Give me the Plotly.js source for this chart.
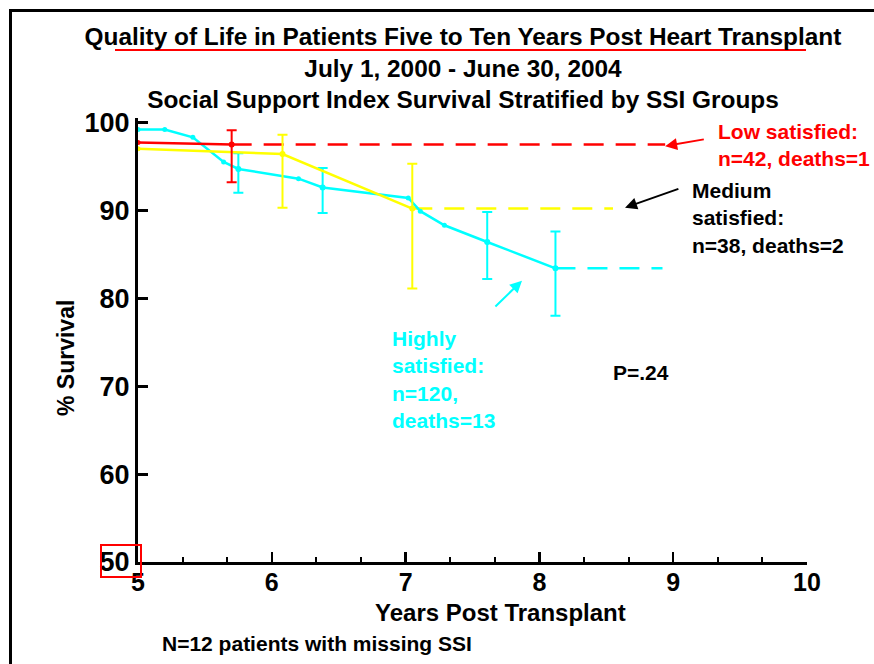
<!DOCTYPE html>
<html>
<head>
<meta charset="utf-8">
<script src="https://cdn.plot.ly/plotly-3.0.1.min.js"></script>
<style>
  html, body { margin: 0; padding: 0; background: #fff; }
  #wrap { position: relative; width: 874px; height: 664px; overflow: hidden; }
  #chart { position: absolute; left: 0; top: 0; width: 874px; height: 664px; }
  #frame { position: absolute; left: 9px; top: 9px; width: 900px; height: 700px;
           border-left: 3px solid #000; border-top: 3px solid #000; pointer-events: none; }
</style>
</head>
<body>
<div id="wrap"><div id="chart"></div><div id="frame"></div></div>
<script>
// ---- Data ----
// Highly satisfied (cyan) Kaplan-Meier curve
const highX = [5.0, 5.2, 5.41, 5.64, 5.75, 6.2, 6.38, 7.02, 7.11, 7.29, 7.61, 8.12];
const highY = [99.2, 99.2, 98.3, 95.5, 94.7, 93.6, 92.6, 91.4, 89.9, 88.3, 86.4, 83.4];
const highCiX = [5.75, 6.38, 7.61, 8.12];
const highCiY = [94.7, 92.6, 86.4, 83.4];
const highCiUpper = [96.5, 94.8, 89.8, 87.6];
const highCiLower = [92.0, 89.7, 82.2, 78.0];
const highTailX = [8.12, 8.92];
const highTailY = [83.4, 83.4];

// Low satisfied (red)
const lowX = [5.0, 5.70];
const lowY = [97.7, 97.5];
const lowCiX = [5.70];
const lowCiY = [97.5];
const lowCiUpper = [99.1];
const lowCiLower = [93.2];
const lowTailX = [5.70, 8.94];
const lowTailY = [97.5, 97.5];

// Medium satisfied (yellow)
const medX = [5.0, 6.08, 7.05];
const medY = [97.0, 96.4, 90.2];
const medCiX = [6.08, 7.05];
const medCiY = [96.4, 90.2];
const medCiUpper = [98.6, 95.3];
const medCiLower = [90.3, 81.1];
const medTailX = [7.05, 8.55];
const medTailY = [90.2, 90.2];

// Axis ticks
const xTickVals = [5, 6, 7, 8, 9, 10];
const xTickText = ['5', '6', '7', '8', '9', '10'];
const yTickVals = [50, 60, 70, 80, 90, 100];
const yTickText = ['50', '60', '70', '80', '90', '100'];

// ---- Styling ----
const CYAN = 'rgb(0,255,255)';
const RED = 'rgb(255,0,0)';
const YELLOW = 'rgb(255,255,0)';
const FONT = 'Liberation Sans, Arial, Helvetica, sans-serif';
const DASH = '20px,12px';

function diff(a, b) { return a.map((v, i) => v - b[i]); }
function curve(x, y, color, name) {
  return { x: x, y: y, type: 'scatter', mode: 'lines+markers', name: name,
    line: { color: color, width: 2.5 }, marker: { color: color, size: 5 },
    showlegend: false, hoverinfo: 'x+y', cliponaxis: false };
}
function tail(x, y, color, name) {
  return { x: x, y: y, type: 'scatter', mode: 'lines', name: name,
    line: { color: color, width: 2.5, dash: DASH }, showlegend: false, hoverinfo: 'skip' };
}
function ci(x, y, up, lo, color, name) {
  return { x: x, y: y, type: 'scatter', mode: 'markers', name: name,
    marker: { color: color, size: 6 },
    error_y: { type: 'data', symmetric: false, array: diff(up, y), arrayminus: diff(y, lo),
      color: color, thickness: 2, width: 5 },
    showlegend: false, cliponaxis: false };
}

const traces = [
  tail(lowTailX, lowTailY, RED, 'Low satisfied'),
  tail(medTailX, medTailY, YELLOW, 'Medium satisfied'),
  tail(highTailX, highTailY, CYAN, 'Highly satisfied'),
  curve(highX, highY, CYAN, 'Highly satisfied'),
  ci(highCiX, highCiY, highCiUpper, highCiLower, CYAN, 'Highly satisfied CI'),
  curve(medX, medY, YELLOW, 'Medium satisfied'),
  ci(medCiX, medCiY, medCiUpper, medCiLower, YELLOW, 'Medium satisfied CI'),
  curve(lowX, lowY, RED, 'Low satisfied'),
  ci(lowCiX, lowCiY, lowCiUpper, lowCiLower, RED, 'Low satisfied CI')
];

// pixel -> paper helpers for layout decorations (plot area: x 138..807, y 118..562)
const PL = 138, PR = 807, PT = 118, PB = 562;
const px = v => (v - PL) / (PR - PL);
const py = v => (PB - v) / (PB - PT);

function note(text, x, y, color, size, opts) {
  return Object.assign({ text: text, xref: 'paper', yref: 'paper', x: px(x), y: py(y),
    xanchor: 'left', yanchor: 'middle', align: 'left', showarrow: false,
    font: { family: FONT, size: size, color: color, weight: 'bold' } }, opts || {});
}
function arrow(tipX, tipY, tailX, tailY, color) {
  return { text: '', xref: 'x', yref: 'y', axref: 'x', ayref: 'y',
    x: tipX, y: tipY, ax: tailX, ay: tailY, showarrow: true,
    arrowhead: 2, arrowsize: 1.2, arrowwidth: 2, arrowcolor: color };
}

const layout = {
  width: 874, height: 664,
  margin: { l: PL, r: 874 - PR, t: PT, b: 664 - PB, pad: 0 },
  paper_bgcolor: '#fff', plot_bgcolor: '#fff',
  font: { family: FONT, color: '#000' },
  title: {
    text: '<b>Quality of Life in Patients Five to Ten Years Post Heart Transplant</b><br><b>July 1, 2000 - June 30, 2004</b><br><b>Social Support Index Survival Stratified by SSI Groups</b>',
    xref: 'container', yref: 'container', x: 463 / 874, xanchor: 'center',
    y: 1 - 45 / 664, yanchor: 'top',
    font: { family: FONT, size: 24.4, color: '#000' }
  },
  xaxis: {
    range: [5, 10], showline: true, linecolor: '#000', linewidth: 3,
    ticks: 'inside', ticklen: 10, tickwidth: 2.5, tickcolor: '#000',
    tickvals: xTickVals, ticktext: xTickText, ticklabelstandoff: -4,
    tickfont: { family: FONT, size: 25, color: '#000', weight: 'bold' },
    minor: { ticks: 'inside', ticklen: 5, tickwidth: 2, tickcolor: '#000', dtick: 1 / 3, tick0: 5, showgrid: false },
    showgrid: false, zeroline: false, fixedrange: true
  },
  yaxis: {
    range: [50, 100.5], showline: true, linecolor: '#000', linewidth: 3,
    ticks: 'inside', ticklen: 10, tickwidth: 3, tickcolor: '#000',
    tickvals: yTickVals, ticktext: yTickText,
    tickfont: { family: FONT, size: 27, color: '#000', weight: 'bold' },
    showgrid: false, zeroline: false, fixedrange: true
  },
  shapes: [
    { type: 'line', xref: 'paper', yref: 'paper', x0: px(115), x1: px(806), y0: py(50), y1: py(50),
      line: { color: RED, width: 2 } },
    { type: 'rect', xref: 'paper', yref: 'paper', x0: px(101), x1: px(141), y0: py(577), y1: py(545),
      line: { color: RED, width: 2 } }
  ],
  annotations: [
    note('<b>Years Post Transplant</b>', 500, 612, '#000', 24, { xanchor: 'center', align: 'center' }),
    note('<b>% Survival</b>', 66, 358, '#000', 23, { xanchor: 'center', align: 'center', textangle: -90 }),
    note('<b>Low satisfied:<br>n=42, deaths=1</b>', 716, 145, RED, 21),
    note('<b>Medium<br>satisfied:<br>n=38, deaths=2</b>', 690, 218, '#000', 21),
    note('<b>Highly<br>satisfied:<br>n=120,<br>deaths=13</b>', 390, 379, CYAN, 21),
    note('<b>P=.24</b>', 611, 372, '#000', 21),
    note('<b>N=12 patients with missing SSI</b>', 160, 643, '#000', 21),
    arrow(8.94, 97.3, 9.24, 98.1, RED),
    arrow(8.64, 90.3, 9.05, 92.5, '#000'),
    arrow(7.87, 82.0, 7.66, 78.9, CYAN)
  ],
  showlegend: false
};

Plotly.newPlot('chart', traces, layout, { displayModeBar: false, staticPlot: true });
</script>
</body>
</html>
